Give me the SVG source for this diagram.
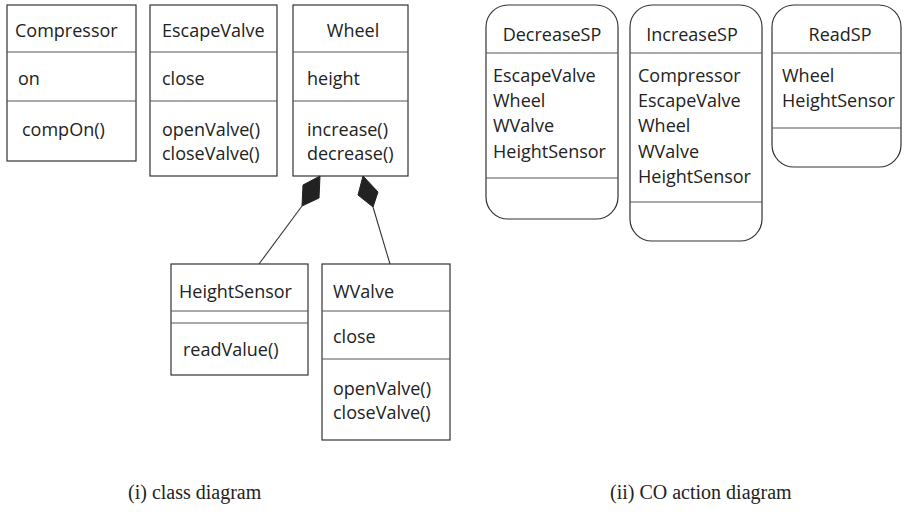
<svg xmlns="http://www.w3.org/2000/svg" width="905" height="515" viewBox="0 0 905 515">
<style>
.box{fill:#fff;stroke:#333;stroke-width:1.2}
.div{stroke:#555;stroke-width:1.2}
.t{font-family:"Open Sans","Lato",sans-serif;font-size:18px;fill:#222}
.c{text-anchor:middle}
.cap{font-family:"Liberation Serif","Times New Roman",serif;font-size:20px;fill:#222}
.edge{stroke:#333;stroke-width:1.1;fill:none}
.dia{fill:#222;stroke:#222;stroke-width:1}
</style>
<rect width="905" height="515" fill="#fff"/>

<g id="Compressor">
<rect class="box" x="7" y="5" width="129" height="156"/>
<line class="div" x1="7" y1="52" x2="136" y2="52"/>
<line class="div" x1="7" y1="101" x2="136" y2="101"/>
<text class="t" x="15" y="37">Compressor</text>
<text class="t" x="18" y="85">on</text>
<text class="t" x="22" y="136">compOn()</text>
</g>

<g id="EscapeValve">
<rect class="box" x="150" y="5" width="127" height="171"/>
<line class="div" x1="150" y1="52" x2="277" y2="52"/>
<line class="div" x1="150" y1="101" x2="277" y2="101"/>
<text class="t" x="162" y="37">EscapeValve</text>
<text class="t" x="162" y="85">close</text>
<text class="t" x="162" y="136">openValve()</text>
<text class="t" x="162" y="160">closeValve()</text>
</g>

<g id="Wheel">
<rect class="box" x="293" y="5" width="115" height="171"/>
<line class="div" x1="293" y1="52" x2="408" y2="52"/>
<line class="div" x1="293" y1="101" x2="408" y2="101"/>
<text class="t c" x="353" y="37">Wheel</text>
<text class="t" x="307" y="85">height</text>
<text class="t" x="307" y="136">increase()</text>
<text class="t" x="307" y="160">decrease()</text>
</g>

<g id="HeightSensor">
<rect class="box" x="171" y="264" width="137" height="111"/>
<line class="div" x1="171" y1="311" x2="308" y2="311"/>
<line class="div" x1="171" y1="323" x2="308" y2="323"/>
<text class="t" x="179" y="298">HeightSensor</text>
<text class="t" x="183" y="356">readValue()</text>
</g>

<g id="WValve">
<rect class="box" x="322" y="264" width="128" height="176"/>
<line class="div" x1="322" y1="311" x2="450" y2="311"/>
<line class="div" x1="322" y1="359" x2="450" y2="359"/>
<text class="t" x="333" y="298">WValve</text>
<text class="t" x="333" y="343">close</text>
<text class="t" x="333" y="395">openValve()</text>
<text class="t" x="333" y="419">closeValve()</text>
</g>

<g id="connectors">
<polygon class="dia" points="320,176 319,198 302,206 303,185"/>
<line class="edge" x1="302" y1="206" x2="259" y2="264"/>
<polygon class="dia" points="363,176 378,192 373,207 358,195"/>
<line class="edge" x1="373" y1="207" x2="390" y2="264"/>
</g>

<g id="DecreaseSP">
<rect class="box" x="486" y="5" width="132" height="214" rx="22" ry="22"/>
<line class="div" x1="486" y1="53" x2="618" y2="53"/>
<line class="div" x1="486" y1="178" x2="618" y2="178"/>
<text class="t c" x="552" y="41">DecreaseSP</text>
<text class="t" x="493" y="82">EscapeValve</text>
<text class="t" x="493" y="107">Wheel</text>
<text class="t" x="493" y="132">WValve</text>
<text class="t" x="493" y="158">HeightSensor</text>
</g>

<g id="IncreaseSP">
<rect class="box" x="630" y="5" width="132" height="236" rx="22" ry="22"/>
<line class="div" x1="630" y1="53" x2="762" y2="53"/>
<line class="div" x1="630" y1="202" x2="762" y2="202"/>
<text class="t c" x="692" y="41">IncreaseSP</text>
<text class="t" x="638" y="82">Compressor</text>
<text class="t" x="638" y="107">EscapeValve</text>
<text class="t" x="638" y="132">Wheel</text>
<text class="t" x="638" y="158">WValve</text>
<text class="t" x="638" y="183">HeightSensor</text>
</g>

<g id="ReadSP">
<rect class="box" x="772" y="5" width="129" height="162" rx="22" ry="22"/>
<line class="div" x1="772" y1="53" x2="901" y2="53"/>
<line class="div" x1="772" y1="128" x2="901" y2="128"/>
<text class="t c" x="840" y="41">ReadSP</text>
<text class="t" x="782" y="82">Wheel</text>
<text class="t" x="782" y="107">HeightSensor</text>
</g>

<g id="captions">
<text class="cap" x="128" y="499">(i) class diagram</text>
<text class="cap" x="610" y="499">(ii) CO action diagram</text>
</g>
</svg>
